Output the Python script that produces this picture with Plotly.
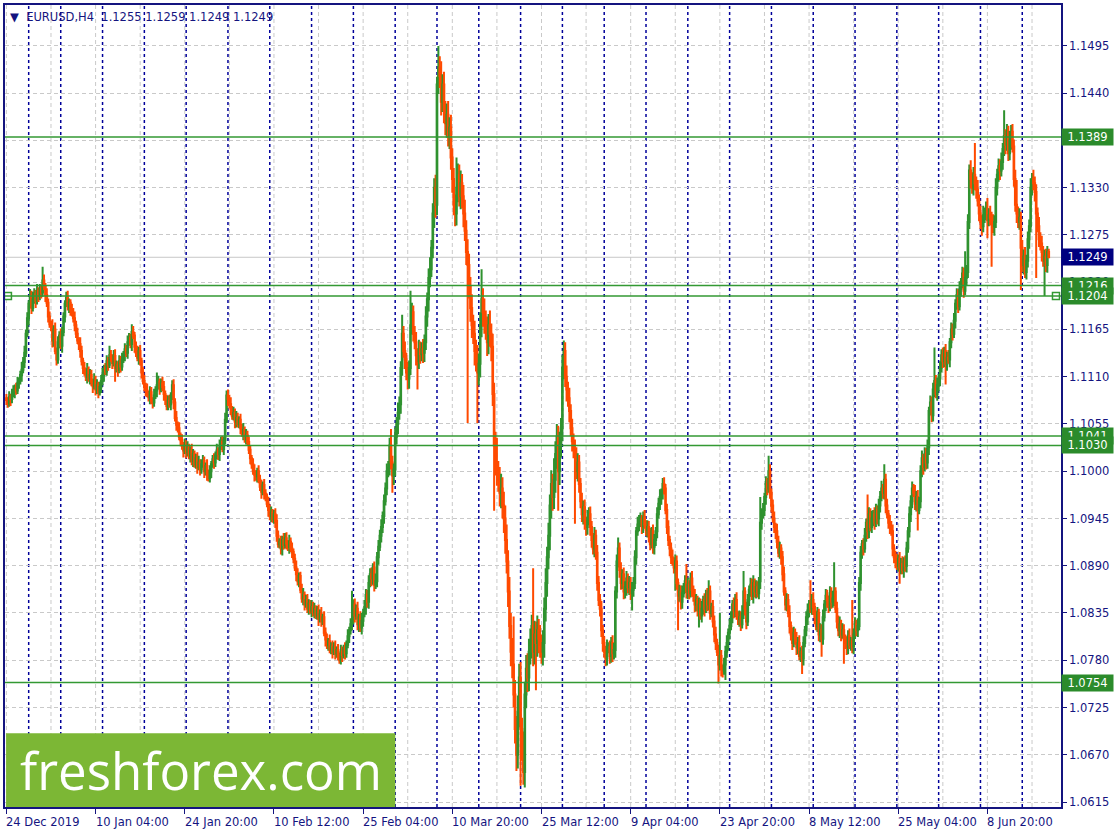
import plotly.graph_objects as go

# ---------------- data ----------------
# close of every H4 bar, in pips above 1.0000  (1083 -> 1.1083)
close_pips = [
    1083, 1079, 1086, 1084, 1090, 1092, 1097, 1094, 1103, 1106,
    1112, 1118, 1127, 1138, 1160, 1178, 1195, 1204, 1190, 1200, 1206,
    1198, 1210, 1204, 1212, 1208, 1222, 1215, 1205, 1196, 1180, 1171, 1168,
    1152, 1165, 1140, 1130, 1150, 1158, 1146, 1162, 1180, 1195, 1202,
    1192, 1196, 1188, 1184, 1178, 1170, 1160, 1152, 1148, 1140,
    1128, 1120, 1115, 1110, 1118, 1108, 1112, 1104, 1099, 1106, 1095, 1100, 1092, 1098,
    1105, 1112, 1120, 1116, 1128, 1124, 1135, 1132, 1126, 1134, 1120, 1124, 1118, 1128, 1122,
    1130, 1136, 1142, 1138, 1150, 1155, 1148, 1162, 1158, 1145, 1138, 1132, 1140,
    1128, 1115, 1105, 1098, 1094, 1090, 1086, 1092, 1082, 1080, 1088, 1094,
    1100, 1104, 1096, 1102, 1098, 1090, 1084, 1076, 1082, 1078, 1088, 1100, 1080, 1062,
    1054, 1050, 1040, 1036, 1030, 1024, 1030,
    1022, 1028,
    1018, 1024, 1012, 1020, 1008, 1015, 1005, 1010, 1002, 1008,
    1012, 1000, 1006, 996, 992, 1000,
    1008, 1014, 1010, 1018, 1024, 1020, 1030, 1034, 1026, 1036,
    1060, 1088, 1084, 1078, 1072, 1064, 1068, 1058, 1062, 1055, 1060,
    1050, 1044, 1048, 1038, 1042, 1034, 1025, 1015, 1008, 1000, 996, 994, 1000,
    990, 982, 976, 984, 974, 970, 962, 955, 948, 952, 944, 950, 942,
    925, 915, 918, 910, 920, 914, 922, 916, 912, 918, 910, 906,
    898, 888, 880, 872, 878,
    862, 852, 856, 845, 850, 840, 846, 838, 842, 836,
    840, 832, 838, 828, 834, 826, 830,
    812, 804, 798, 802, 792, 796, 790,
    795, 788, 792, 784, 780, 790, 786, 794, 788, 798,
    808, 815, 822, 826, 845, 832, 840, 822, 830, 818, 826, 835, 842,
    856, 848, 870, 880, 875, 888, 868, 872,
    900, 912, 925, 935, 948, 965, 980, 1000,
    1004, 1030, 1010, 995, 1002, 1040, 1055, 1068, 1078,
    1120, 1160, 1140, 1130, 1115, 1108, 1120, 1170, 1185, 1160,
    1150, 1135, 1128, 1142, 1136, 1142, 1138, 1150,
    1180, 1200, 1225, 1235, 1260, 1300, 1330, 1310, 1450, 1470,
    1460, 1430, 1450, 1420, 1405, 1415, 1390, 1400, 1365,
    1340, 1310, 1300, 1330, 1345, 1320, 1335,
    1320, 1300, 1280, 1255, 1240, 1215, 1190, 1170,
    1160, 1140, 1130, 1115, 1125, 1170, 1200, 1185, 1175,
    1165, 1150, 1170, 1160, 1145, 1090, 1030, 1010, 1000,
    990, 975, 980, 960, 945, 920, 895, 860, 820, 790, 775,
    740, 700, 670, 720, 760, 700, 680, 650,
    740, 770, 760, 790, 800, 820, 790, 810, 800, 815, 805, 798,
    790, 800, 840, 870, 900, 925, 960, 985, 970, 990,
    1020, 1040, 1000, 1030, 1050, 1120, 1140,
    1110, 1095, 1085, 1070, 1050, 1035, 1025, 1020, 1000, 1010, 985,
    965, 950, 958, 940, 935, 945, 950, 935, 920, 910, 925, 905,
    870, 850, 840, 815, 800, 790, 782, 795, 795, 785, 800, 788, 792,
    860, 895, 910, 885, 870, 880, 860, 865, 875, 865, 870, 858, 862, 870,
    900, 930, 938, 942, 944, 936, 946, 938, 932,
    935, 925, 915, 930, 912, 920, 930, 950, 962, 970, 975, 985, 980,
    955, 935, 920, 910, 900, 895, 888, 895, 870, 855, 860, 848, 858,
    865, 872, 860, 868, 858, 875, 862, 855, 845, 850, 838, 845, 832, 840,
    850, 840, 855, 845, 860, 835, 842, 825, 810, 800, 790, 775, 785,
    770, 768, 775, 790, 800, 812, 820, 830, 845, 838, 850, 832, 828,
    830, 822, 835, 860, 840, 825, 850, 862, 868, 855, 870, 860, 865, 858, 872,
    940, 950, 955, 970, 985, 980, 1000, 975, 960, 945, 935, 930,
    918, 905, 910, 900, 880, 860, 845, 850, 835, 820, 810, 800, 812,
    805, 795, 800, 785, 790, 782, 800, 815, 830, 838, 845, 840, 850,
    842, 830, 820, 835, 810, 815, 805,
    830, 845, 855, 850, 842, 858, 848, 852, 860, 840, 825, 815, 822, 810, 815,
    805, 800, 795, 808, 798, 802, 796, 810, 822, 815, 820,
    870, 905, 915, 910, 925, 940, 930, 950, 935, 945,
    950, 940, 955, 945, 960, 970, 980, 975, 990,
    960, 950, 940, 935, 930, 910, 900, 895, 890, 898, 888,
    892, 885, 895, 890, 910, 930, 950, 965, 980, 975, 962, 970, 955, 965,
    1000, 1015, 1005, 1020, 1010, 1028, 1070, 1080, 1065,
    1095, 1105, 1090, 1100, 1108, 1120, 1135, 1128, 1140, 1125, 1132, 1130,
    1150, 1165, 1160, 1175, 1195, 1205, 1192, 1212, 1220, 1230, 1210, 1225, 1232,
    1290, 1350, 1340, 1330, 1345, 1335, 1328, 1315, 1300, 1290, 1285, 1298,
    1300, 1305, 1292, 1298, 1295, 1290, 1285, 1290,
    1330, 1345, 1355, 1350, 1360, 1375, 1390, 1380, 1395, 1370, 1385, 1395, 1378,
    1340, 1310, 1300, 1290, 1295, 1260, 1240, 1250, 1232, 1245, 1270, 1285,
    1330, 1340, 1335, 1325, 1300, 1285, 1270, 1265, 1255, 1245, 1250,
    1240, 1255, 1249,
]

# upper wick of every bar above its body, in pips
wick_up = [
    5, 3, 7, 4, 6, 8, 4, 6, 7, 3, 5, 9, 6, 8, 5, 7, 4, 8, 6, 9, 7, 5, 8, 4, 6,
    5, 16, 7, 4, 8, 5, 6, 4, 9, 5, 8, 4, 7, 5, 8, 6, 5, 4, 7, 8, 5, 4, 7, 6, 8,
    5, 7, 4, 8, 6, 4, 7, 5, 8, 4, 7, 6, 4, 8, 5, 7, 4, 6, 7, 8, 4, 6, 7, 5, 11,
    6, 4, 7, 8, 5, 4, 7, 6, 8, 4, 7, 5, 8, 6, 5, 9, 7, 4, 6, 8, 5, 7, 4, 6, 7,
    5, 8, 4, 7, 6, 4, 8, 5, 15, 7, 4, 6, 8, 7, 4, 5, 6, 7, 4, 6, 7, 5, 8, 4, 7,
    5, 7, 4, 8, 6, 7, 4, 5, 8, 6, 4, 5, 7, 8, 4, 6, 7, 5, 4, 8, 6, 7, 4, 5, 7,
    5, 8, 4, 7, 6, 7, 4, 8, 6, 7, 5, 8, 4, 7, 5, 8, 6, 4, 7, 5, 8, 4, 7, 5, 6,
    5, 4, 7, 8, 5, 4, 7, 6, 8, 4, 7, 5, 4, 8, 6, 7, 4, 5, 7, 8, 6, 4, 7, 5, 8,
    6, 7, 4, 8, 5, 7, 4, 6, 8, 7, 4, 5, 7, 8, 4, 6, 7, 5, 4, 8, 6, 7, 4, 5, 7,
    5, 8, 4, 7, 6, 7, 4, 8, 5, 7, 6, 8, 4, 7, 5, 8, 6, 4, 7, 5, 8, 4, 7, 35, 6,
    7, 5, 8, 4, 7, 9, 5, 8, 7, 6, 9, 7, 8, 5, 7, 9, 6, 8, 7, 9, 5, 8, 7, 9, 8,
    9, 19, 8, 7, 11, 8, 12, 9, 8, 22, 9, 11, 8, 12, 9, 40, 11, 8, 9, 12, 8, 11, 9, 8, 12,
    9, 12, 8, 11, 14, 9, 12, 11, 15, 9, 25, 13, 17, 12, 15, 11, 13, 16, 12, 15, 11, 13, 12, 35, 13,
    12, 15, 11, 13, 16, 12, 15, 13, 11, 16, 12, 15, 13, 17, 12, 15, 35, 13, 16, 12, 15, 13, 17, 12, 15,
    13, 16, 29, 12, 15, 17, 13, 16, 15, 18, 13, 17, 15, 16, 56, 17, 15, 19, 16, 18, 13, 17, 15, 16, 18,
    15, 17, 13, 67, 16, 15, 17, 13, 16, 12, 15, 13, 17, 12, 15, 13, 16, 12, 25, 15, 15, 13, 16, 12, 15,
    12, 10, 13, 9, 12, 8, 11, 9, 12, 8, 11, 9, 7, 10, 8, 9, 7, 10, 8, 9, 7, 8, 10, 7, 9,
    8, 7, 9, 6, 8, 7, 9, 6, 8, 7, 9, 8, 6, 8, 13, 7, 9, 6, 8, 7, 9, 6, 8, 7, 9,
    7, 8, 5, 9, 7, 8, 5, 7, 9, 5, 8, 7, 9, 5, 8, 7, 5, 8, 7, 9, 5, 7, 8, 5, 7,
    8, 5, 7, 9, 5, 8, 7, 5, 8, 7, 9, 5, 7, 20, 8, 5, 7, 9, 5, 8, 7, 5, 8, 7, 9,
    5, 8, 7, 9, 13, 7, 5, 8, 7, 9, 5, 8, 50, 7, 5, 8, 7, 9, 5, 8, 7, 5, 8, 7, 9,
    5, 8, 7, 9, 24, 5, 8, 7, 5, 8, 7, 9, 5, 8, 7, 5, 30, 7, 8, 5, 9, 7, 18, 8, 5,
    7, 8, 5, 9, 7, 8, 5, 7, 9, 5, 8, 7, 9, 5, 8, 7, 5, 8, 7, 9, 5, 7, 8, 5, 7,
    8, 5, 28, 7, 9, 5, 8, 7, 5, 8, 7, 9, 5, 8, 7, 5, 8, 7, 9, 34, 5, 8, 7, 9, 5,
    8, 7, 5, 8, 7, 9, 5, 48, 7, 8, 5, 9, 7, 8, 5, 7, 9, 5, 33, 8, 7, 9, 5, 8, 7,
    5, 8, 7, 9, 5, 18, 7, 8, 5, 9, 7, 8, 5, 7, 9, 5, 8, 7, 9, 5, 7, 8, 5, 9, 7,
    8, 5, 9, 7, 8, 5, 7, 9, 5, 8, 7, 9, 5, 8, 7, 8, 39, 7, 9, 5, 8, 7, 9, 5, 8,
    7, 9, 5, 8, 7, 9, 5, 8, 7, 9, 5, 8, 7, 31, 8, 9, 7, 12, 8, 9, 37, 8, 11, 7, 9,
    8, 11, 7, 9, 13, 8, 11, 7, 9, 8, 11, 7, 9, 8, 11, 7, 30, 8, 9, 7, 11, 8, 9, 8, 11,
    29, 8, 11, 7, 9, 8, 11, 7, 9, 8, 11, 7, 11, 8, 9, 7, 11, 8, 9, 7, 8, 9, 7, 4,
]

# lower wick of every bar below its body, in pips
wick_dn = [
    6, 5, 4, 8, 5, 4, 7, 5, 4, 7, 5, 8, 4, 7, 5, 4, 8, 5, 7, 4, 5, 8, 4, 7, 5,
    7, 5, 4, 8, 5, 7, 4, 5, 8, 7, 4, 7, 5, 7, 4, 8, 5, 7, 4, 5, 8, 7, 4, 5, 7,
    5, 4, 7, 8, 5, 7, 4, 5, 8, 4, 7, 5, 8, 4, 7, 5, 7, 4, 7, 5, 8, 4, 5, 7, 4,
    5, 7, 4, 16, 5, 8, 4, 7, 5, 4, 8, 5, 7, 4, 5, 8, 4, 7, 5, 4, 8, 5, 7, 4, 5,
    7, 4, 5, 8, 4, 7, 5, 4, 8, 5, 7, 4, 5, 8, 7, 5, 5, 4, 7, 5, 8, 4, 7, 5, 4,
    7, 5, 8, 4, 7, 5, 4, 8, 5, 7, 4, 5, 8, 4, 7, 5, 4, 8, 5, 7, 4, 5, 8, 4, 7,
    5, 4, 7, 8, 5, 4, 7, 5, 4, 8, 5, 7, 4, 5, 8, 7, 4, 5, 7, 4, 8, 5, 7, 4, 5,
    7, 5, 4, 8, 5, 7, 4, 5, 8, 4, 7, 5, 4, 8, 5, 7, 4, 5, 8, 7, 4, 5, 7, 8, 5,
    4, 7, 5, 8, 4, 7, 5, 4, 8, 5, 7, 4, 5, 8, 7, 4, 5, 7, 4, 8, 5, 7, 4, 5, 8,
    4, 7, 5, 4, 8, 5, 7, 4, 5, 8, 4, 7, 5, 4, 4, 5, 8, 4, 7, 5, 4, 8, 5, 7, 4,
    8, 5, 7, 9, 5, 8, 7, 5, 9, 7, 8, 5, 9, 7, 8, 5, 7, 9, 5, 8, 7, 9, 5, 8, 7,
    9, 8, 20, 11, 8, 9, 12, 8, 11, 9, 8, 11, 9, 13, 12, 8, 11, 9, 8, 12, 33, 9, 11, 8, 12,
    11, 9, 12, 14, 11, 9, 12, 17, 15, 12, 11, 14, 16, 12, 15, 14, 17, 12, 15, 14, 16, 12, 15, 14, 17,
    12, 15, 14, 16, 12, 15, 184, 14, 16, 15, 12, 17, 14, 59, 15, 16, 14, 17, 15, 12, 16, 14, 15, 17, 14,
    76, 15, 17, 14, 16, 18, 15, 17, 16, 14, 18, 15, 17, 16, 15, 17, 19, 16, 18, 66, 17, 15, 18, 16, 17,
    16, 15, 18, 17, 15, 55, 16, 17, 15, 14, 16, 17, 15, 16, 14, 17, 15, 16, 14, 15, 17, 46, 16, 14, 15,
    13, 12, 14, 10, 13, 9, 12, 10, 81, 9, 12, 10, 8, 9, 12, 8, 10, 9, 8, 10, 9, 7, 10, 8, 9,
    7, 9, 8, 10, 7, 9, 8, 7, 9, 8, 10, 7, 9, 8, 7, 9, 8, 7, 9, 8, 10, 7, 9, 8, 20,
    8, 7, 9, 5, 8, 7, 9, 8, 5, 7, 9, 8, 7, 5, 8, 9, 7, 8, 5, 7, 9, 8, 7, 5, 8,
    7, 9, 8, 5, 7, 27, 8, 40, 7, 9, 8, 5, 7, 8, 9, 7, 5, 8, 7, 9, 8, 7, 20, 5, 8,
    7, 9, 5, 8, 7, 8, 5, 7, 9, 8, 5, 22, 7, 9, 8, 5, 18, 7, 9, 8, 5, 7, 9, 8, 5,
    7, 9, 8, 5, 7, 8, 9, 5, 7, 8, 5, 9, 7, 8, 5, 7, 9, 8, 5, 7, 9, 8, 5, 7, 8,
    5, 7, 9, 8, 5, 7, 9, 8, 5, 7, 8, 5, 9, 7, 8, 5, 7, 9, 8, 5, 7, 18, 8, 5, 7,
    9, 8, 5, 7, 9, 8, 5, 7, 8, 9, 21, 7, 5, 8, 9, 7, 5, 8, 7, 9, 5, 8, 7, 9, 8,
    5, 29, 7, 9, 8, 5, 7, 8, 9, 5, 7, 8, 5, 9, 7, 8, 5, 7, 9, 8, 5, 7, 9, 8, 5,
    7, 9, 8, 5, 7, 8, 9, 5, 7, 8, 5, 9, 7, 8, 5, 7, 19, 8, 5, 9, 7, 8, 5, 7, 9,
    8, 5, 7, 9, 24, 5, 8, 7, 9, 5, 8, 7, 9, 5, 8, 7, 9, 5, 8, 7, 9, 5, 8, 7, 24,
    8, 5, 9, 7, 8, 5, 9, 7, 8, 5, 9, 7, 8, 5, 9, 7, 8, 11, 7, 9, 8, 11, 7, 9, 8,
    11, 7, 9, 8, 21, 7, 9, 52, 8, 11, 7, 9, 8, 11, 7, 9, 8, 11, 7, 9, 8, 11, 7, 9, 8,
    11, 7, 9, 49, 8, 11, 7, 9, 8, 11, 7, 9, 8, 11, 75, 7, 9, 8, 11, 7, 41, 8, 9, 0,
]

first_open_pips = 1085

label_bars = [0, 64, 128, 192, 256, 320, 384, 448, 512, 576, 640, 704]
x_labels = ["24 Dec 2019", "10 Jan 04:00", "24 Jan 20:00", "10 Feb 12:00",
            "25 Feb 04:00", "10 Mar 20:00", "25 Mar 12:00", "9 Apr 04:00",
            "23 Apr 20:00", "8 May 12:00", "25 May 04:00", "8 Jun 20:00"]
week_start_bars = [16, 39, 69, 99, 129, 159, 189, 219, 249, 279, 309, 339, 369,
                   399, 429, 459, 489, 519, 549, 579, 609, 639, 669, 699, 729]
y_ticks = [1.0615, 1.0670, 1.0725, 1.0780, 1.0835, 1.0890, 1.0945, 1.1000,
           1.1055, 1.1110, 1.1165, 1.1220, 1.1275, 1.1330, 1.1385, 1.1440, 1.1495]
level_prices = [1.1389, 1.1216, 1.1204, 1.1041, 1.1030, 1.0754]
selected_level = 1.1204
last_price = 1.1249
symbol_text = "EURUSD,H4"
last_ohlc = ["1.1255", "1.1259", "1.1249", "1.1249"]
watermark_text = "freshforex.com"

assert len(close_pips) == len(wick_up) == len(wick_dn), (len(close_pips), len(wick_up), len(wick_dn))

# ---------------- styles ----------------
NAVY = "#14147f"
GREEN_UP = "#2f922f"
ORANGE_DN = "#ff4a00"
LEVEL_GREEN = "#339933"
BOX_GREEN = "#2b8b2b"
GRID = "#c9c9c9"
FONT = "DejaVu Sans"
FSIZE = 11.5

# ---------------- build OHLC ----------------
opens, highs, lows, closes = [], [], [], []
prev = first_open_pips
for c, u, d in zip(close_pips, wick_up, wick_dn):
    o = prev
    opens.append(1 + o / 1e4)
    closes.append(1 + c / 1e4)
    highs.append(1 + (max(o, c) + u) / 1e4)
    lows.append(1 + (min(o, c) - d) / 1e4)
    prev = c
n = len(closes)
bars = list(range(n))

fig = go.Figure()
fig.add_trace(go.Candlestick(
    x=bars, open=opens, high=highs, low=lows, close=closes,
    increasing=dict(line=dict(color=GREEN_UP, width=2), fillcolor=GREEN_UP),
    decreasing=dict(line=dict(color=ORANGE_DN, width=2), fillcolor=ORANGE_DN),
    whiskerwidth=0, showlegend=False, hoverinfo="skip",
))

X_RANGE = [-1.0, 756.8]
Y_RANGE = [1.06092, 1.15426]

shapes = []
for b in range(0, n, 32):
    shapes.append(dict(type="line", xref="x", yref="paper", x0=b, x1=b, y0=0, y1=1,
                       line=dict(color=GRID, width=1, dash="4px,3px"), layer="below"))
for b in week_start_bars:
    shapes.append(dict(type="line", xref="x", yref="paper", x0=b, x1=b, y0=0, y1=1,
                       line=dict(color="#00009a", width=1.5, dash="3px,3px"), layer="below"))
shapes.append(dict(type="line", xref="paper", yref="y", x0=0, x1=1, y0=last_price, y1=last_price,
                   line=dict(color="#c8c8c8", width=1), layer="below"))
for p in level_prices:
    shapes.append(dict(type="line", xref="paper", yref="y", x0=0, x1=1, y0=p, y1=p,
                       line=dict(color=LEVEL_GREEN, width=1.5), layer="above"))
shapes.append(dict(type="rect", xref="paper", yref="paper", x0=0.001, x1=0.3696, y0=0, y1=0.092,
                   fillcolor="#7cb735", line=dict(width=0), layer="above"))

fig.add_trace(go.Scatter(
    x=[1.1, 753.2], y=[selected_level, selected_level], mode="markers",
    marker=dict(symbol="square", size=7, color="white", line=dict(color=LEVEL_GREEN, width=1.5)),
    showlegend=False, hoverinfo="skip", cliponaxis=False,
))

annotations = []
for b, t in zip(label_bars, x_labels):
    annotations.append(dict(x=b, y=0, xref="x", yref="paper", text=t, showarrow=False,
                            xanchor="left", yanchor="top", yshift=-6, xshift=-2,
                            font=dict(family=FONT, size=FSIZE, color=NAVY)))
for p in level_prices:
    annotations.append(dict(x=1, y=p, xref="paper", yref="y", text=f"{p:.4f}", showarrow=False,
                            xanchor="left", yanchor="middle", bgcolor=BOX_GREEN, borderpad=1,
                            width=49, font=dict(family=FONT, size=FSIZE, color="white")))
annotations.append(dict(x=1, y=last_price, xref="paper", yref="y", text=f"{last_price:.4f}",
                        showarrow=False, xanchor="left", yanchor="middle", bgcolor="#000080",
                        borderpad=1, width=49, font=dict(family=FONT, size=FSIZE, color="white")))
annotations.append(dict(x=0, y=1, xref="paper", yref="paper", xanchor="left", yanchor="top",
                        xshift=3, yshift=-3, showarrow=False,
                        text="\u25bc\u00a0\u00a0" + symbol_text + "\u00a0\u00a0" + "\u00a0".join(last_ohlc),
                        font=dict(family=FONT, size=FSIZE, color=NAVY)))
annotations.append(dict(x=0.1854, y=0.046, xref="paper", yref="paper", text=watermark_text,
                        showarrow=False, xanchor="center", yanchor="middle",
                        font=dict(family="Open Sans", size=51, color="white")))

fig.update_layout(
    width=1118, height=838,
    margin=dict(l=4, r=57, t=3, b=31),
    paper_bgcolor="white", plot_bgcolor="white",
    showlegend=False,
    shapes=shapes, annotations=annotations,
    font=dict(family=FONT, size=FSIZE, color=NAVY),
)
fig.update_xaxes(
    range=X_RANGE, rangeslider_visible=False,
    tickmode="array", tickvals=label_bars, ticktext=[""] * len(label_bars),
    ticks="outside", ticklen=5, tickcolor=NAVY, showticklabels=False,
    showgrid=False, zeroline=False,
    showline=True, linecolor=NAVY, linewidth=1.5, mirror=True,
)
fig.update_yaxes(
    range=Y_RANGE, side="right",
    tickmode="array", tickvals=y_ticks, ticktext=[f"{v:.4f}" for v in y_ticks],
    ticks="outside", ticklen=4, tickcolor=NAVY,
    tickfont=dict(family=FONT, size=FSIZE, color=NAVY),
    showgrid=True, gridcolor=GRID, griddash="4px,3px", gridwidth=1,
    zeroline=False, showline=True, linecolor=NAVY, linewidth=1.5, mirror=True,
)

fig.write_html("out.html", config={"displayModeBar": False},
               post_script="document.body.style.margin='0px';")
